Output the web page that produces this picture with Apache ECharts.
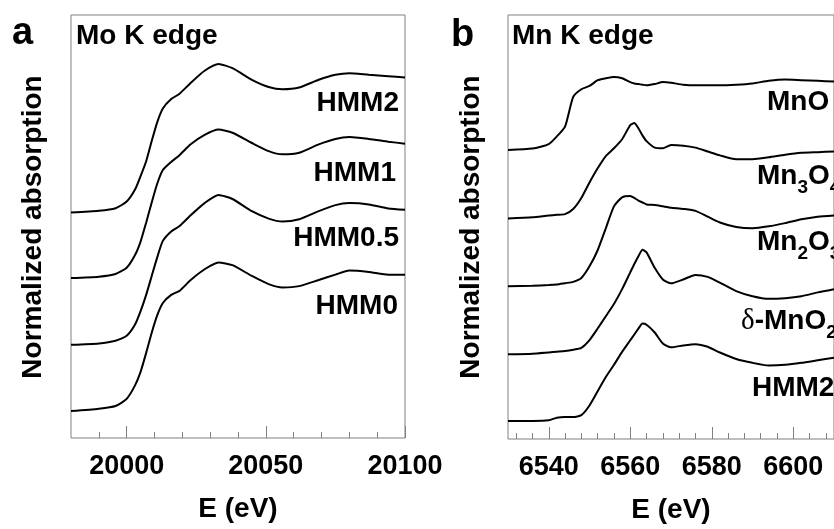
<!DOCTYPE html>
<html>
<head>
<meta charset="utf-8">
<script src="https://cdn.jsdelivr.net/npm/echarts@6/dist/echarts.min.js"></script>
<style>
html,body{margin:0;padding:0;background:#fff;overflow:hidden}
#c{width:834px;height:529px}
</style>
</head>
<body>
<div id="c"></div>
<script>
// ---------- Panel a : Mo K edge ----------
const E_A = [19980, 19990, 19996, 20000, 20003, 20005, 20007, 20009, 20011, 20013, 20016, 20019, 20023, 20028, 20033, 20038, 20045, 20051, 20056, 20062, 20069, 20075, 20080, 20087, 20094, 20100];
const HMM0_A  = [0, 0.017, 0.037, 0.09, 0.19, 0.29, 0.43, 0.58, 0.71, 0.80, 0.86, 0.89, 0.97, 1.05, 1.10, 1.08, 1.00, 0.94, 0.915, 0.925, 0.97, 1.01, 1.04, 1.03, 1.01, 1.01];
const HMM05_A = [0, 0.01, 0.03, 0.067, 0.15, 0.25, 0.37, 0.51, 0.65, 0.77, 0.84, 0.88, 0.96, 1.05, 1.11, 1.08, 0.99, 0.935, 0.913, 0.93, 0.99, 1.035, 1.05, 1.04, 1.01, 1.00];
const HMM1_A  = [0, 0.01, 0.03, 0.076, 0.17, 0.27, 0.41, 0.56, 0.70, 0.80, 0.86, 0.91, 0.99, 1.06, 1.10, 1.076, 1.00, 0.94, 0.916, 0.928, 0.99, 1.03, 1.044, 1.03, 1.01, 0.995];
const HMM2_A  = [0, 0.013, 0.032, 0.081, 0.17, 0.27, 0.38, 0.53, 0.67, 0.77, 0.84, 0.88, 0.96, 1.05, 1.10, 1.069, 0.983, 0.93, 0.913, 0.926, 0.983, 1.02, 1.032, 1.02, 1.01, 1.00];
const NAMES_A = ['HMM0', 'HMM0.5', 'HMM1', 'HMM2'];
const OFFSETS_A = [0, 0.49, 0.985, 1.47];
const MAJOR_A = [20000, 20050, 20100];
const MINOR_A = [19990, 20010, 20020, 20030, 20040, 20060, 20070, 20080, 20090];

// ---------- Panel b : Mn K edge ----------
const E_B = [6530, 6536, 6540, 6542, 6544, 6546, 6548, 6550, 6552, 6554, 6556, 6558, 6560, 6561, 6562, 6563, 6564, 6566, 6568, 6570, 6573, 6576, 6579, 6582, 6586, 6590, 6594, 6598, 6602, 6606, 6610];
const MNO_B   = [0, 0.02, 0.09, 0.21, 0.36, 0.82, 0.94, 0.99, 1.08, 1.11, 1.13, 1.11, 1.05, 1.03, 1.02, 1.01, 1.00, 1.02, 1.05, 1.04, 1.01, 1.00, 1.00, 1.00, 1.01, 1.03, 1.07, 1.09, 1.08, 1.07, 1.06];
const MN3O4_B = [0, 0.02, 0.05, 0.06, 0.07, 0.15, 0.32, 0.56, 0.78, 0.97, 1.09, 1.23, 1.45, 1.48, 1.40, 1.29, 1.20, 1.10, 1.09, 1.14, 1.13, 1.10, 1.04, 0.98, 0.92, 0.92, 0.95, 0.99, 1.02, 1.03, 1.04];
const MN2O3_B = [0, 0.01, 0.02, 0.03, 0.05, 0.07, 0.13, 0.31, 0.56, 0.90, 1.24, 1.38, 1.40, 1.37, 1.33, 1.30, 1.27, 1.26, 1.24, 1.22, 1.20, 1.17, 1.08, 0.99, 0.92, 0.90, 0.93, 0.98, 1.04, 1.08, 1.10];
const DMNO2_B = [0, 0.01, 0.03, 0.04, 0.05, 0.07, 0.10, 0.22, 0.40, 0.59, 0.78, 1.01, 1.27, 1.40, 1.52, 1.62, 1.58, 1.34, 1.16, 1.10, 1.16, 1.23, 1.20, 1.11, 0.98, 0.90, 0.86, 0.87, 0.90, 0.96, 1.01];
const HMM2_B  = [0, 0.00, 0.01, 0.05, 0.06, 0.06, 0.09, 0.24, 0.46, 0.68, 0.87, 1.07, 1.25, 1.34, 1.43, 1.51, 1.49, 1.37, 1.20, 1.14, 1.17, 1.19, 1.15, 1.06, 0.96, 0.90, 0.86, 0.87, 0.90, 0.94, 0.98];
const NAMES_B = ['MnO', 'Mn3O4', 'Mn2O3', 'δ-MnO2', 'HMM2'];
const OFFSETS_B = [4.20, 3.135, 2.085, 1.032, 0];
const MAJOR_B = [6540, 6560, 6580, 6600];
const MINOR_B = [6532, 6536, 6544, 6548, 6552, 6556, 6564, 6568, 6572, 6576, 6584, 6588, 6592, 6596, 6604, 6608];

const FONT = '"Liberation Sans", Arial, Helvetica, sans-serif';
const AXC = '#808080';

function pts(E, mu, off) { return E.map((e, i) => [e, +(mu[i] + off).toFixed(4)]); }
function curve(name, xi, yi, data) {
  return { type: 'line', name, xAxisIndex: xi, yAxisIndex: yi, data, showSymbol: false, smooth: 0.2,
           lineStyle: { color: '#000', width: 2 }, silent: true };
}
function minorX(grid, min, max, minor) {
  return { type: 'value', gridIndex: grid, min, max, position: 'bottom', offset: 0,
    axisLine: { show: false, onZero: false }, splitLine: { show: false }, axisLabel: { show: false },
    axisTick: { show: true, inside: true, length: 6, customValues: minor, lineStyle: { color: AXC, width: 1 } } };
}
function mainX(grid, min, max, major) {
  return { type: 'value', gridIndex: grid, min, max, position: 'bottom', offset: 0,
    axisLine: { show: false, onZero: false }, splitLine: { show: false },
    axisTick: { show: true, inside: true, length: 12, customValues: major, lineStyle: { color: AXC, width: 1 } },
    axisLabel: { show: true, customValues: major, margin: 15, color: '#000', fontSize: 27, fontWeight: 'bold', fontFamily: FONT,
                 formatter: v => String(v) },
    name: 'E (eV)', nameLocation: 'middle', nameGap: 57,
    nameTextStyle: { color: '#000', fontSize: 28, fontWeight: 'bold', fontFamily: FONT } };
}
function txt(x, y, text, size, align, va, extra) {
  return Object.assign({ type: 'text', x, y, silent: true,
    style: { text, font: 'bold ' + size + 'px ' + FONT, fill: '#000', align, verticalAlign: va } }, extra || {});
}
function subLabel(x, y, text) {
  return { type: 'text', x, y, silent: true,
    style: { text, fill: '#000', align: 'left', verticalAlign: 'top',
      rich: {
        m: { fontSize: 28, fontWeight: 'bold', fontFamily: FONT, lineHeight: 28, verticalAlign: 'top', fill: '#000' },
        g: { fontSize: 29, fontWeight: 'normal', fontFamily: '"Liberation Serif", "Times New Roman", serif', lineHeight: 28, verticalAlign: 'top', fill: '#000' },
        s: { fontSize: 19, fontWeight: 'bold', fontFamily: FONT, lineHeight: 19, verticalAlign: 'top', padding: [16, 0, 0, 0], fill: '#000' }
      } } };
}

const seriesA = [HMM0_A, HMM05_A, HMM1_A, HMM2_A].map((mu, k) => curve(NAMES_A[k], 0, 0, pts(E_A, mu, OFFSETS_A[k])));
const seriesB = [MNO_B, MN3O4_B, MN2O3_B, DMNO2_B, HMM2_B].map((mu, k) => curve(NAMES_B[k], 2, 1, pts(E_B, mu, OFFSETS_B[k])));

const chart = echarts.init(document.getElementById('c'), null, { renderer: 'canvas' });
chart.setOption({
  animation: false,
  backgroundColor: '#fff',
  grid: [
    { left: 71, top: 15, width: 334, height: 423, show: true, borderColor: AXC, borderWidth: 1, backgroundColor: 'transparent' },
    { left: 508, top: 15, width: 332, height: 427, show: true, borderColor: AXC, borderWidth: 1, backgroundColor: 'transparent' }
  ],
  xAxis: [
    minorX(0, 19980, 20100, MINOR_A),
    mainX(0, 19980, 20100, MAJOR_A),
    minorX(1, 6530, 6610, MINOR_B),
    mainX(1, 6530, 6610, MAJOR_B)
  ],
  yAxis: [
    { type: 'value', gridIndex: 0, min: -0.2, max: 2.933, show: false },
    { type: 'value', gridIndex: 1, min: -0.28, max: 6.29, show: false }
  ],
  series: seriesA.concat(seriesB),
  graphic: [
    txt(12, 34, 'a', 38, 'left', 'middle'),
    txt(451, 36, 'b', 38, 'left', 'middle'),
    txt(76, 36, 'Mo K edge', 28, 'left', 'middle'),
    txt(512, 36, 'Mn K edge', 28, 'left', 'middle'),
    txt(33, 227, 'Normalized absorption', 28, 'center', 'middle', { rotation: Math.PI / 2 }),
    txt(471, 227, 'Normalized absorption', 28, 'center', 'middle', { rotation: Math.PI / 2 }),
    txt(399, 103, 'HMM2', 28, 'right', 'middle'),
    txt(396, 173, 'HMM1', 28, 'right', 'middle'),
    txt(399, 238, 'HMM0.5', 28, 'right', 'middle'),
    txt(398, 306, 'HMM0', 28, 'right', 'middle'),
    txt(767, 102, 'MnO', 28, 'left', 'middle'),
    subLabel(757, 162, '{m|Mn}{s|3}{m|O}{s|4}'),
    subLabel(757, 228, '{m|Mn}{s|2}{m|O}{s|3}'),
    subLabel(741, 307, '{g|δ}{m|-MnO}{s|2}'),
    txt(752, 388, 'HMM2', 28, 'left', 'middle')
  ]
});
</script>
</body>
</html>
